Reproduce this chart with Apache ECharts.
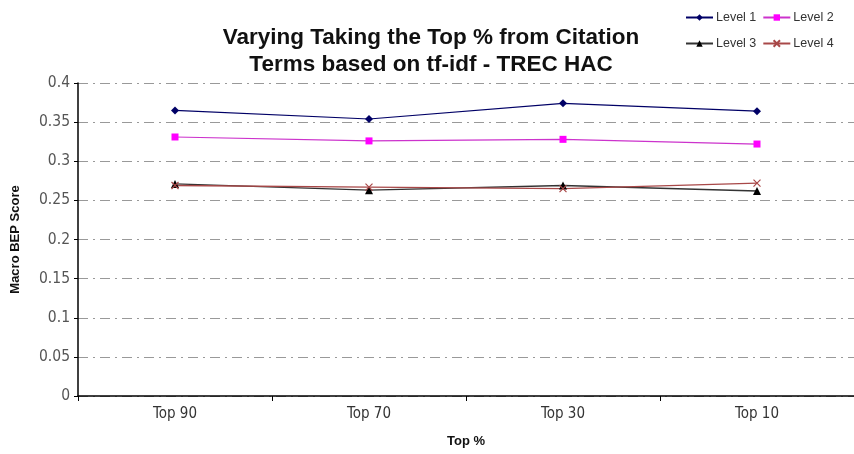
<!DOCTYPE html>
<html>
<head>
<meta charset="utf-8">
<script src="https://cdn.jsdelivr.net/npm/echarts@6/dist/echarts.min.js"></script>
<style>
    html, body { margin: 0; padding: 0; background: #fff; }
    #chart { width: 854px; height: 454px; }
</style>
</head>
<body>
<div id="chart"></div>
<script>
"use strict";

var categories = ['Top 90', 'Top 70', 'Top 30', 'Top 10'];
var level1 = [0.365, 0.354, 0.374, 0.364];
var level2 = [0.331, 0.326, 0.328, 0.322];
var level3 = [0.271, 0.263, 0.269, 0.262];
var level4 = [0.269, 0.267, 0.265, 0.272];

var crossPath = 'path://M0,0 L10,10 M10,0 L0,10';
var narrowFont = "'DejaVu Sans Condensed', 'Liberation Sans', sans-serif";

var legendText = { fontFamily: 'Liberation Sans', fontSize: 12.5, color: '#333', padding: [0, 0, 0, -2] };

var chart = echarts.init(document.getElementById('chart'));
chart.setOption({
    backgroundColor: '#fff',
    animation: false,
    title: {
        text: 'Varying Taking the Top % from Citation\nTerms based on tf-idf - TREC HAC',
        left: 426,
        textAlign: 'center',
        top: 19,
        textStyle: {
            fontFamily: 'Liberation Sans',
            fontSize: 22.5,
            fontWeight: 'bold',
            color: '#111',
            lineHeight: 27
        }
    },
    legend: [{
        data: ['Level 1', 'Level 2'],
        left: 680,
        top: 6,
        itemWidth: 27,
        itemHeight: 8,
        itemGap: 6,
        textStyle: legendText
    }, {
        data: ['Level 3', 'Level 4'],
        left: 680,
        top: 32,
        itemWidth: 27,
        itemHeight: 8,
        itemGap: 6,
        textStyle: legendText
    }],
    grid: {
        left: 78,
        right: 0,
        top: 83,
        bottom: 58,
        outerBoundsMode: 'none'
    },
    xAxis: {
        type: 'category',
        data: categories,
        boundaryGap: true,
        name: 'Top %',
        nameLocation: 'middle',
        nameGap: 39,
        nameTextStyle: {
            fontFamily: 'Liberation Sans',
            fontSize: 13,
            fontWeight: 'bold',
            color: '#111'
        },
        axisLine: { lineStyle: { color: '#000', width: 1.5 } },
        axisTick: { show: true, length: 5, lineStyle: { color: '#000' } },
        axisLabel: {
            margin: 11,
            fontFamily: narrowFont,
            fontSize: 15,
            color: '#333'
        },
        splitLine: { show: false }
    },
    yAxis: {
        type: 'value',
        min: 0,
        max: 0.4,
        interval: 0.05,
        name: 'Macro BEP Score',
        nameLocation: 'middle',
        nameRotate: 90,
        nameGap: 56,
        nameTextStyle: {
            fontFamily: 'Liberation Sans',
            fontSize: 13,
            fontWeight: 'bold',
            color: '#111'
        },
        axisLine: { show: true, lineStyle: { color: '#000', width: 1.5 } },
        axisTick: { show: true, length: 4, lineStyle: { color: '#000' } },
        axisLabel: {
            margin: 8,
            fontFamily: narrowFont,
            fontSize: 15.5,
            color: '#555'
        },
        splitLine: {
            show: true,
            lineStyle: { color: '#999', width: 1, type: [10, 5, 2, 5] }
        }
    },
    series: [{
        name: 'Level 1',
        type: 'line',
        data: level1,
        symbol: 'diamond',
        symbolSize: 8,
        color: '#000066',
        lineStyle: { width: 1.2, color: '#000066' },
        itemStyle: { color: '#000066' }
    }, {
        name: 'Level 2',
        type: 'line',
        data: level2,
        symbol: 'rect',
        symbolSize: 7,
        color: '#ff00ff',
        lineStyle: { width: 1.2, color: '#cc33cc' },
        itemStyle: { color: '#ff00ff' }
    }, {
        name: 'Level 3',
        type: 'line',
        data: level3,
        symbol: 'triangle',
        symbolSize: 8,
        color: '#000',
        lineStyle: { width: 1.3, color: '#333' },
        itemStyle: { color: '#000' }
    }, {
        name: 'Level 4',
        type: 'line',
        data: level4,
        symbol: crossPath,
        symbolSize: 7,
        color: '#a84848',
        lineStyle: { width: 1.3, color: '#a84848' },
        itemStyle: { color: 'none', borderColor: '#a84848', borderWidth: 1.2 }
    }]
});
</script>
</body>
</html>
